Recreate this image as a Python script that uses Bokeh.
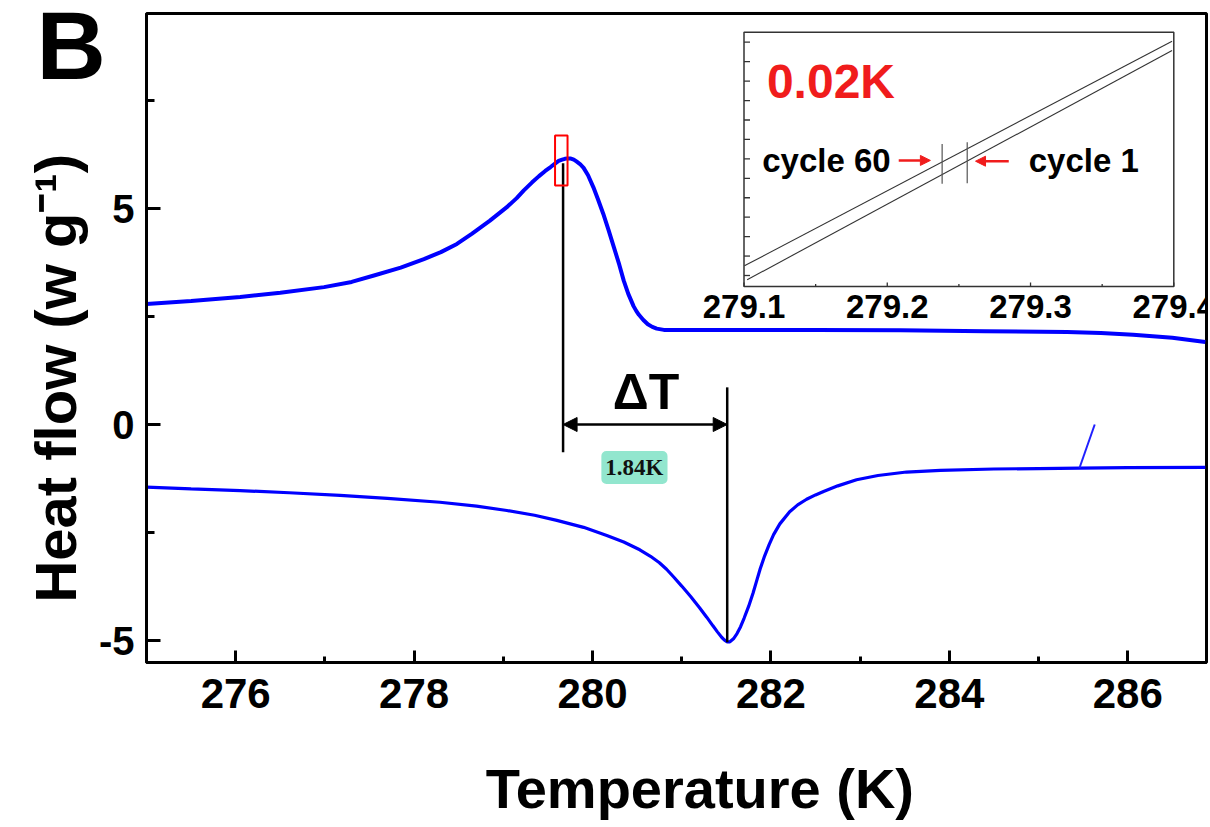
from bokeh.plotting import figure
from bokeh.models import Range1d, FixedTicker, Label, Arrow, NormalHead, Title
from bokeh.core.properties import value
from bokeh.embed import file_html
from bokeh.resources import INLINE

# ---------------- data ----------------
heat_temp = [275.00, 275.50, 276.05, 276.50, 276.99, 277.30, 277.55, 277.85, 278.11, 278.30,
             278.48, 278.65, 278.85, 279.05, 279.15, 279.23, 279.32, 279.40, 279.47, 279.53,
             279.58, 279.62, 279.66, 279.69, 279.72, 279.75, 279.79, 279.82, 279.86, 279.90,
             279.95, 280.01, 280.06, 280.12, 280.18, 280.24, 280.30, 280.35, 280.40, 280.46,
             280.49, 280.52, 280.57, 280.62, 280.67, 280.72, 280.80, 281.00, 281.88, 282.50,
             283.45, 284.40, 285.32, 285.70, 286.06, 286.50, 286.87]
heat_flow = [2.79, 2.86, 2.95, 3.05, 3.18, 3.30, 3.45, 3.63, 3.83, 3.99,
             4.18, 4.42, 4.72, 5.05, 5.24, 5.42, 5.60, 5.75, 5.87, 5.96,
             6.04, 6.10, 6.13, 6.15, 6.16, 6.16, 6.13, 6.09, 6.03, 5.94,
             5.77, 5.49, 5.22, 4.88, 4.50, 4.10, 3.70, 3.33, 3.03, 2.74,
             2.63, 2.54, 2.42, 2.32, 2.26, 2.22, 2.19, 2.19, 2.19, 2.19,
             2.18, 2.16, 2.14, 2.12, 2.08, 2.01, 1.91]

cool_temp = [275.00, 275.50, 276.05, 276.60, 277.17, 277.70, 278.29, 278.70, 279.04, 279.35,
             279.60, 279.90, 280.16, 280.35, 280.53, 280.65, 280.75, 280.83, 280.91, 281.00,
             281.10, 281.20, 281.28, 281.35, 281.40, 281.45, 281.48, 281.51, 281.54, 281.58,
             281.62, 281.66, 281.70, 281.75, 281.80, 281.84, 281.88, 281.93, 281.98, 282.03,
             282.10, 282.21, 282.30, 282.40, 282.50, 282.59, 282.75, 282.96, 283.20, 283.52,
             283.90, 284.50, 285.00, 285.46, 286.00, 286.87]
cool_flow = [-1.45, -1.49, -1.53, -1.58, -1.64, -1.71, -1.80, -1.89, -1.99, -2.10,
             -2.22, -2.38, -2.57, -2.72, -2.90, -3.05, -3.20, -3.35, -3.53, -3.74,
             -3.98, -4.24, -4.46, -4.66, -4.80, -4.93, -4.99, -5.03, -5.03, -4.96,
             -4.84, -4.68, -4.48, -4.21, -3.90, -3.62, -3.34, -3.04, -2.78, -2.55,
             -2.30, -2.02, -1.86, -1.73, -1.63, -1.55, -1.42, -1.28, -1.18, -1.10,
             -1.06, -1.03, -1.02, -1.01, -1.00, -0.99]

spike_temp = [285.46, 285.63]
spike_flow = [-1.0, 0.0]

x_ticks = [276, 278, 280, 282, 284, 286]
x_minor = [277, 279, 281, 283, 285]
y_ticks = [-5, 0, 5]
y_tick_labels = ["-5", "0", "5"]
y_minor = [-2.5, 2.5, 7.5]

peak_T = 279.67
trough_T = 281.51
delta_label = "1.84K"

# inset (zoom of the peak position, two cycles)
inset_ticks = [279.1, 279.2, 279.3, 279.4]
inset_minor = [279.15, 279.25, 279.35]
inset_tick_labels = ["279.1", "279.2", "279.3", "279.4"]
inset_y_ticks = list(range(0, 13))
cycle60_x = [279.1003, 279.3988]
cycle60_y = [0.50, 12.05]
cycle1_x = [279.1022, 279.3988]
cycle1_y = [-0.22, 11.57]
mark_x = [279.2383, 279.2558]
mark_y0 = [4.72, 4.75]
mark_y1 = [6.77, 6.86]

# ---------------- layout constants ----------------
FONT = "Liberation Sans"
FW, FH = 1060, 649
X0, X1 = 275.0, 286.883
Y0, Y1 = -5.509, 9.514

# inset frame in pixels relative to the main frame's top-left corner
IN_L, IN_R = 597.5, 1027.3
IN_T, IN_B = 18.7, 273.0
IX_PER_PX = 0.3 / (IN_R - IN_L)
ix_start = 279.1 - IN_L * IX_PER_PX
ix_end = 279.4 + (FW - IN_R) * IX_PER_PX
IY_PX = 19.44  # px per inset unit
IY_ZERO = 262.0  # px from frame top of inset unit 0
iy_start = -(FH - IY_ZERO) / IY_PX
iy_end = IY_ZERO / IY_PX
in_bottom = -(IN_B - IY_ZERO) / IY_PX
in_top = (IY_ZERO - IN_T) / IY_PX

p = figure(frame_width=FW, frame_height=FH,
           x_range=Range1d(X0, X1), y_range=Range1d(Y0, Y1),
           output_backend="svg", toolbar_location=None,
           min_border_left=146, min_border_right=2, min_border_top=13, min_border_bottom=140,
           background_fill_color="white", border_fill_color="white")
p.extra_x_ranges = {"ix": Range1d(ix_start, ix_end)}
p.extra_y_ranges = {"iy": Range1d(iy_start, iy_end)}

p.xgrid.visible = False
p.ygrid.visible = False
p.outline_line_color = "black"
p.outline_line_width = 3

for ax in (p.xaxis[0], p.yaxis[0]):
    ax.axis_line_width = 3
    ax.major_tick_line_width = 3
    ax.minor_tick_line_width = 3
    ax.major_tick_out = 0
    ax.minor_tick_out = 0
    ax.major_label_text_font = FONT
    ax.major_label_text_font_style = "bold"
    ax.major_label_text_color = "black"
    ax.axis_label_text_font = FONT
    ax.axis_label_text_font_style = "bold"
    ax.axis_label_text_color = "black"

p.xaxis[0].ticker = FixedTicker(ticks=x_ticks, minor_ticks=x_minor)
p.xaxis[0].major_tick_in = 12
p.xaxis[0].minor_tick_in = 6
p.xaxis[0].major_label_text_font_size = "42px"
p.xaxis[0].major_label_standoff = 16
p.xaxis[0].axis_label = "\u00a0\u00a0\u00a0Temperature (K)"
p.xaxis[0].axis_label_text_font_size = "56px"
p.xaxis[0].axis_label_standoff = 46

p.yaxis[0].ticker = FixedTicker(ticks=y_ticks, minor_ticks=y_minor)
p.yaxis[0].major_label_overrides = {t: s for t, s in zip(y_ticks, y_tick_labels)}
p.yaxis[0].major_tick_in = 14
p.yaxis[0].minor_tick_in = 8
p.yaxis[0].major_label_text_font_size = "40px"
p.yaxis[0].major_label_standoff = 12
p.yaxis[0].axis_label = "Heat flow (w g\u207b\u00b9)" + "\u00a0" * 5
p.yaxis[0].axis_label_text_font_size = "58px"
p.yaxis[0].axis_label_standoff = 8

# panel letter, drawn as a title that sits over the top-left border
p.add_layout(Title(text="B", align="left", offset=-110, vertical_align="bottom", standoff=-170,
                   text_font=FONT, text_font_style="bold", text_font_size="96px",
                   text_color="black"), "above")

# ---------------- main curves ----------------
p.line(heat_temp, heat_flow, line_color="#0000ff", line_width=4)
p.line(cool_temp, cool_flow, line_color="#0000ff", line_width=3.2)
p.line(spike_temp, spike_flow, line_color="#2020ff", line_width=2)

# marker lines and delta-T arrow
p.segment(x0=[peak_T, trough_T], y0=[6.05, 0.86], x1=[peak_T, trough_T], y1=[-0.64, -5.04],
          line_color="black", line_width=2.5)
p.quad(left=[279.58], right=[279.72], bottom=[5.53], top=[6.69],
       fill_alpha=0, line_color="red", line_width=2)
p.add_layout(Arrow(x_start=peak_T, y_start=0.0, x_end=trough_T, y_end=0.0,
                   start=NormalHead(size=14, fill_color="black", line_color="black"),
                   end=NormalHead(size=14, fill_color="black", line_color="black"),
                   line_color="black", line_width=2.5))
p.text(x=[280.6], y=[0.75], text=["\u0394T"], text_align="center", text_baseline="middle",
       text_font=value(FONT), text_font_style="bold", text_font_size="50px", text_color="black")
p.add_layout(Label(x=280.47, y=-0.995, text=delta_label, text_align="center", text_baseline="middle",
                   text_font="Liberation Serif", text_font_style="bold", text_font_size="23px",
                   text_color="#111111", background_fill_color="#86e3c9", background_fill_alpha=0.9,
                   padding=4, border_radius=5))

# ---------------- inset ----------------
kw = dict(x_range_name="ix", y_range_name="iy")
p.quad(left=[279.1], right=[279.4], bottom=[in_bottom], top=[in_top],
       fill_color="white", line_color="#333333", line_width=1.5, **kw)
tick_len_major = 4.0 / IY_PX
tick_len_minor = 2.5 / IY_PX
p.segment(x0=inset_ticks, x1=inset_ticks, y0=[in_bottom] * 4, y1=[in_bottom + tick_len_major] * 4,
          line_color="#333333", line_width=1.3, **kw)
p.segment(x0=inset_minor, x1=inset_minor, y0=[in_bottom] * 3, y1=[in_bottom + tick_len_minor] * 3,
          line_color="#333333", line_width=1.3, **kw)
ylen = 6.0 * IX_PER_PX
p.segment(x0=[279.1] * len(inset_y_ticks), x1=[279.1 + ylen] * len(inset_y_ticks),
          y0=inset_y_ticks, y1=inset_y_ticks, line_color="#333333", line_width=1.3, **kw)
p.text(x=inset_ticks, y=[-1.62] * 4, text=inset_tick_labels, text_align="center",
       text_baseline="middle", text_font=value(FONT), text_font_style="bold",
       text_font_size="33px", text_color="black", **kw)

p.line(cycle60_x, cycle60_y, line_color="#333333", line_width=1.1, **kw)
p.line(cycle1_x, cycle1_y, line_color="#333333", line_width=1.1, **kw)
p.segment(x0=mark_x, x1=mark_x, y0=mark_y0, y1=mark_y1, line_color="#555555", line_width=1.2, **kw)

p.text(x=[279.116], y=[10.0], text=["0.02K"], text_align="left", text_baseline="middle",
       text_font=value(FONT), text_font_style="bold", text_font_size="48px", text_color="#f01c1c", **kw)
p.text(x=[279.1127, 279.2987], y=[5.92, 5.92], text=["cycle 60", "cycle 1"], text_align="left",
       text_baseline="middle", text_font=value(FONT), text_font_style="bold",
       text_font_size="33px", text_color="black", **kw)
p.add_layout(Arrow(x_start=279.208, y_start=5.92, x_end=279.2301, y_end=5.92,
                   end=NormalHead(size=10, fill_color="#f01c1c", line_color="#f01c1c"),
                   line_color="#f01c1c", line_width=2.5, **kw))
p.add_layout(Arrow(x_start=279.2848, y_start=5.88, x_end=279.2616, y_end=5.88,
                   end=NormalHead(size=10, fill_color="#f01c1c", line_color="#f01c1c"),
                   line_color="#f01c1c", line_width=2.5, **kw))

open("out.html", "w").write(file_html(p, INLINE))
